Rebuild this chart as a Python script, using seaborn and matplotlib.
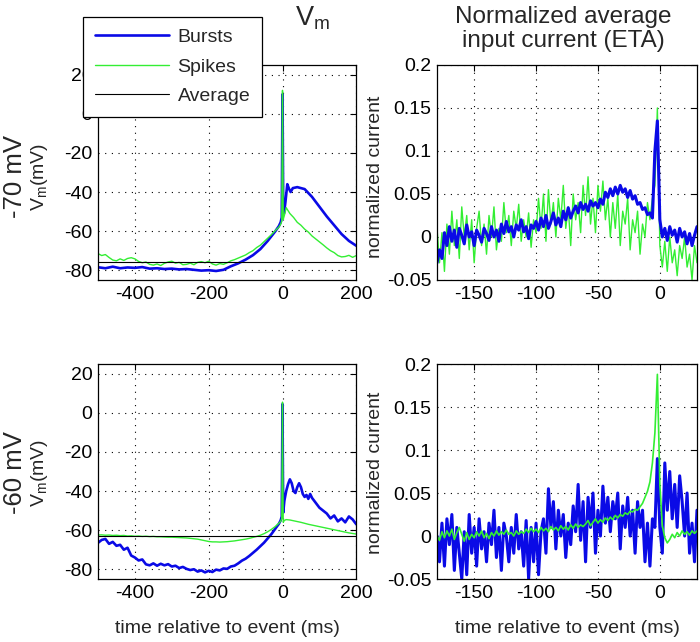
import numpy as np
import matplotlib
matplotlib.use("Agg")
import matplotlib.pyplot as plt
from matplotlib.lines import Line2D
from matplotlib.ticker import FuncFormatter
import seaborn as sns

# ---- data ----
# Vm at -70 mV holding, bursts
t_burst70 = np.concatenate([np.arange(-500, -39, 20),
                            [-30, -20, -10, -5, -2, 0, 1, 2, 4, 8, 13, 18, 22, 28],
                            np.arange(40, 201, 20)])
vm_burst70 = [-78.5, -79, -78.2, -79, -78.6, -78.8, -78.4, -79.2, -79, -79.4,
              -79.2, -79.6, -79.4, -79.8, -80.2, -80, -80.4, -79.8, -78, -76.5,
              -74.6, -72.3, -69.2, -65,
              -62.6, -60.2, -57.5, -55.5, -53, 10, -20, -50, -51, -45, -36, -38.5, -40, -38,
              -37.5, -38.5, -42.5, -47.5, -52.5, -57, -61.5, -65, -67.5]

# Vm at -70 mV holding, single spikes
t_spike70 = np.concatenate([np.arange(-500, -9, 10),
                            [-5, -2, 0, 1, 2, 5, 10, 15, 20],
                            np.arange(30, 201, 10)])
vm_spike70 = [-71.5, -72.5, -72.0, -73.5, -74.8, -75.2, -74.2, -75.0, -74.0, -73.6,
              -74.2, -75.5, -76.2, -75.8, -77.0, -77.4, -76.8, -77.6, -76.5, -75.8,
              -75.4, -76.4, -76.0, -77.2, -77.0, -76.4, -77.2, -76.0, -75.6, -76.2,
              -75.4, -76.8, -77.4, -76.6, -77.0, -76.2, -75.2, -74.6, -73.8, -73.0,
              -72.2, -71.0, -70.0, -68.4, -67.2, -65.4, -63.6, -61.8, -59.8, -58.0,
              -56.5, -55, 12, -20, -54, -52, -48, -49.5, -51,
              -53, -55.5, -57, -59, -60.5, -62.5, -64, -65.5, -67, -68.6,
              -70, -71, -72.5, -73.2, -73, -72.4, -73.4, -72.5]
avg70 = -75.7

# Vm at -60 mV holding, bursts
t_burst60 = np.concatenate([np.arange(-500, -9, 10),
                            [-5, -2, 0, 1, 2, 5],
                            np.arange(10, 80, 5),
                            np.arange(80, 201, 10)])
vm_burst60 = [-66.5, -65, -64.5, -67, -66, -68, -67.5, -70, -69, -73,
              -74, -75.5, -75, -77.5, -78, -77, -78.2, -77.2, -78, -77.4,
              -78.6, -78.2, -79.4, -78.8, -79.8, -80.4, -80, -81.2, -80.6, -81.6,
              -80.8, -81.4, -80.2, -80.6, -79.6, -79.8, -78.6, -78.2, -77, -75.6,
              -74.6, -73.2, -71.6, -70, -68.2, -66.4, -64.2, -62, -59.4, -56.8,
              -55, -53, 4.5, -30, -51, -45,
              -40, -36.5, -34, -36, -40, -41, -38, -36, -38, -41.5, -43, -42, -44, -41.5,
              -43.5, -46, -48.5, -50, -51.5, -54, -52.5, -55.5, -54, -56, -53, -54.5, -57]

# Vm at -60 mV holding, single spikes
t_spike60 = np.concatenate([np.arange(-500, -9, 10),
                            [-5, -2, 0, 1, 2, 5],
                            np.arange(10, 201, 10)])
vm_spike60 = [-62.5, -62.4, -62.6, -62.5, -62.7, -62.6, -62.8, -62.7, -63, -62.9,
              -63.1, -63, -63.2, -63.1, -63.3, -63.2, -63.4, -63.4, -63.5, -63.6,
              -63.6, -63.7, -63.8, -63.9, -64,
              -64.2, -64.4, -64.6, -65, -65.4, -65.8, -66, -66, -66.1, -66,
              -65.9, -65.7, -65.5, -65.2, -64.9, -64.6, -64.2, -63.7, -63.2, -62.6,
              -61.8, -60.8, -59.6, -58.2, -56.5,
              -55.5, -54, 5.5, -30, -56, -55,
              -54.6, -54.8, -55.2, -55.6, -56, -56.5, -57, -57.4, -57.8, -58.2,
              -58.6, -59, -59.4, -59.8, -60.2, -60.6, -61, -61.4, -61.7, -62]
avg60 = -63.0

# normalized input current (ETA), sampled every 2 ms from -180 to 30 ms
t_eta = np.arange(-180, 31, 2)
eta_burst70 = [-0.030, -0.015, -0.025, 0.005, -0.010, 0.012, -0.005, 0.008, -0.012, 0.010,
               0.002, -0.008, 0.014, 0.000, 0.006, -0.010, 0.008, 0.002, -0.006, 0.010,
               0.004, -0.004, 0.012, 0.000, 0.008, -0.005, 0.015, 0.004, 0.018, 0.006,
               0.012, 0.000, 0.014, 0.008, 0.020, 0.006, 0.012, -0.002, 0.014, 0.010,
               0.018, 0.008, 0.022, 0.012, 0.025, 0.010, 0.018, 0.028, 0.014, 0.022,
               0.012, 0.030, 0.020, 0.034, 0.022, 0.030, 0.036, 0.028, 0.040, 0.032,
               0.038, 0.030, 0.042, 0.036, 0.040, 0.034, 0.044, 0.038, 0.052, 0.046,
               0.056, 0.048, 0.058, 0.050, 0.060, 0.052, 0.056, 0.046, 0.054, 0.044,
               0.048, 0.038, 0.040, 0.032, 0.034, 0.026, 0.028, 0.022, 0.100, 0.135,
               0.020, 0.000, 0.010, -0.004, 0.012, 0.002, 0.008, -0.006, 0.010, 0.000,
               0.006, -0.008, 0.004, -0.010, 0.002, 0.012]
eta_spike70 = [0.010, -0.030, 0.005, -0.040, 0.015, -0.020, 0.030, -0.010, 0.020, -0.025,
               0.035, 0.000, 0.025, -0.015, 0.020, -0.030, 0.010, 0.030, -0.010, 0.015,
               -0.020, 0.025, 0.000, 0.035, -0.015, 0.010, -0.005, 0.040, 0.005, 0.025,
               -0.010, 0.030, 0.010, 0.038, -0.005, 0.020, 0.000, 0.028, -0.012, 0.020,
               0.005, 0.045, 0.010, 0.050, -0.005, 0.055, 0.015, 0.040, 0.000, 0.045,
               0.020, 0.060, 0.010, 0.035, -0.010, 0.050, 0.020, 0.040, 0.005, 0.060,
               0.025, 0.070, 0.015, 0.045, 0.005, 0.060, 0.030, 0.065, 0.020, 0.045,
               0.000, 0.040, 0.010, 0.050, -0.010, 0.030, 0.015, 0.045, -0.015, 0.020,
               0.005, 0.030, -0.020, 0.015, 0.000, 0.040, 0.020, 0.045, 0.060, 0.150,
               -0.010, -0.035, -0.005, -0.040, 0.000, -0.030, -0.015, -0.045, -0.010, -0.025,
               0.000, -0.035, -0.020, -0.050, -0.010, -0.030]
eta_burst60 = [0.000, -0.030, 0.015, -0.035, 0.020, -0.010, 0.025, -0.040, 0.010, -0.020,
               -0.050, 0.005, -0.045, 0.025, -0.020, 0.010, -0.035, 0.020, -0.015, 0.005,
               -0.030, 0.015, -0.010, 0.030, -0.025, 0.010, -0.040, 0.015, 0.000, -0.030,
               0.010, -0.020, 0.025, -0.015, 0.005, -0.035, 0.018, -0.050, 0.010, -0.030,
               0.015, -0.045, 0.005, 0.020, -0.020, 0.055, 0.010, 0.040, -0.015, 0.030,
               0.000, 0.025, -0.025, 0.015, -0.010, 0.035, 0.005, 0.060, -0.005, 0.040,
               -0.030, 0.045, 0.010, 0.050, -0.020, 0.030, 0.000, 0.058, 0.015, 0.045,
               0.005, 0.040, 0.020, 0.050, -0.015, 0.035, 0.010, 0.045, 0.000, 0.030,
               -0.020, 0.040, 0.010, 0.030, -0.030, 0.015, -0.035, 0.020, 0.010, 0.090,
               0.010, -0.020, 0.085, 0.030, 0.075, 0.020, 0.060, 0.010, 0.070, 0.040,
               0.000, 0.050, -0.020, 0.015, -0.030, 0.030]
eta_spike60 = [0.000, -0.005, 0.005, -0.002, 0.006, 0.000, 0.008, -0.004, 0.004, 0.010,
               0.002, -0.006, 0.004, -0.004, 0.002, -0.002, 0.005, 0.000, 0.006, -0.002,
               0.003, -0.003, 0.004, 0.000, 0.006, 0.001, 0.005, 0.002, 0.007, 0.002,
               0.004, 0.000, 0.006, 0.002, 0.005, 0.003, 0.008, 0.004, 0.009, 0.005,
               0.008, 0.004, 0.010, 0.006, 0.009, 0.005, 0.011, 0.007, 0.010, 0.006,
               0.012, 0.008, 0.011, 0.007, 0.013, 0.009, 0.014, 0.010, 0.013, 0.011,
               0.014, 0.018, 0.012, 0.016, 0.020, 0.015, 0.019, 0.016, 0.021, 0.018,
               0.022, 0.019, 0.024, 0.021, 0.025, 0.023, 0.027, 0.025, 0.029, 0.028,
               0.031, 0.030, 0.034, 0.038, 0.045, 0.052, 0.063, 0.085, 0.120, 0.188,
               0.060, 0.012, -0.002, -0.008, -0.004, 0.002, -0.002, 0.004, 0.000, 0.006,
               0.002, 0.005, 0.001, 0.006, 0.003, 0.006]

BLUE = "#0a0ae6"
GREEN = "#33ee33"

sns.set_style("white")
plt.rcParams["font.family"] = ["Liberation Sans", "DejaVu Sans"]
plt.rcParams["mathtext.fontset"] = "custom"
plt.rcParams["mathtext.rm"] = "Liberation Sans"

fig = plt.figure(figsize=(7, 6.42), dpi=100)
ax_vm70 = fig.add_axes([0.140, 0.5639, 0.369, 0.3349])
ax_eta70 = fig.add_axes([0.6243, 0.5639, 0.3714, 0.3349])
ax_vm60 = fig.add_axes([0.140, 0.0981, 0.369, 0.3349])
ax_eta60 = fig.add_axes([0.6243, 0.0981, 0.3714, 0.3349])

fmt = FuncFormatter(lambda v, p: f"{v:g}")


def style_axis(ax, xlim, ylim, xticks, yticks):
    ax.set_xlim(*xlim)
    ax.set_ylim(*ylim)
    ax.set_xticks(xticks)
    ax.set_yticks(yticks)
    ax.xaxis.set_major_formatter(fmt)
    ax.yaxis.set_major_formatter(fmt)
    ax.grid(True, color="k", linestyle=(0, (1, 5)), linewidth=0.8)
    ax.tick_params(direction="in", length=4, top=True, right=True,
                   labelsize=14, colors="k", pad=4)
    for s in ax.spines.values():
        s.set_color("k")
        s.set_linewidth(0.9)


# left column: membrane potential
for ax, tb, vb, ts, vs, avg in [(ax_vm70, t_burst70, vm_burst70, t_spike70, vm_spike70, avg70),
                                (ax_vm60, t_burst60, vm_burst60, t_spike60, vm_spike60, avg60)]:
    sns.lineplot(x=tb, y=vb, ax=ax, color=BLUE, lw=1.9, estimator=None)
    sns.lineplot(x=ts, y=vs, ax=ax, color=GREEN, lw=1.0, estimator=None)
    ax.axhline(avg, color="k", lw=0.8)
    style_axis(ax, (-500, 200), (-85, 25), [-400, -200, 0, 200], np.arange(-80, 21, 20))

# right column: ETA of input current
sns.lineplot(x=t_eta, y=eta_spike70, ax=ax_eta70, color=GREEN, lw=1.0, estimator=None)
sns.lineplot(x=t_eta, y=eta_burst70, ax=ax_eta70, color=BLUE, lw=2.2, estimator=None)
sns.lineplot(x=t_eta, y=eta_burst60, ax=ax_eta60, color=BLUE, lw=2.2, estimator=None)
sns.lineplot(x=t_eta, y=eta_spike60, ax=ax_eta60, color=GREEN, lw=1.2, estimator=None)
for ax in (ax_eta70, ax_eta60):
    style_axis(ax, (-180, 30), (-0.05, 0.2), [-150, -100, -50, 0],
               [-0.05, 0, 0.05, 0.1, 0.15, 0.2])

for ax in (ax_vm70, ax_eta70, ax_vm60, ax_eta60):
    ax.set_xlabel("")
    ax.set_ylabel("")
for ax in (ax_vm60, ax_eta60):
    ax.set_xlabel("time relative to event (ms)", fontsize=14, labelpad=13)

# axis / row labels
for yc, row in [(1 - 177 / 642, "-70 mV"), (1 - 473 / 642, "-60 mV")]:
    fig.text(15 / 700, yc, row, rotation=90, ha="center", va="center", fontsize=18.5)
    fig.text(40 / 700, yc, r"$\mathregular{V_m}$(mV)", rotation=90,
             ha="center", va="center", fontsize=14)
    fig.text(376 / 700, yc, "normalized current", rotation=90,
             ha="center", va="center", fontsize=14)

fig.text(312 / 700, 1 - 18 / 642, r"$\mathregular{V_m}$", ha="center", va="center", fontsize=19.5)
fig.text(563 / 700, 1 - 29 / 642, "Normalized average\ninput current (ETA)",
         ha="center", va="center", fontsize=17.5, linespacing=1.1)

handles = [Line2D([], [], color=BLUE, lw=1.9, label="Bursts"),
           Line2D([], [], color=GREEN, lw=1.0, label="Spikes"),
           Line2D([], [], color="k", lw=0.8, label="Average")]
leg = fig.legend(handles=handles, loc="upper left", bbox_to_anchor=(83 / 700, 1 - 17 / 642),
                 bbox_transform=fig.transFigure, fontsize=14, fancybox=False,
                 framealpha=1, edgecolor="k", handlelength=3.8, handletextpad=0.46,
                 labelspacing=0.6, borderpad=0.6, borderaxespad=0)
leg.get_frame().set_linewidth(0.9)

fig.savefig("out.png", dpi=100)
